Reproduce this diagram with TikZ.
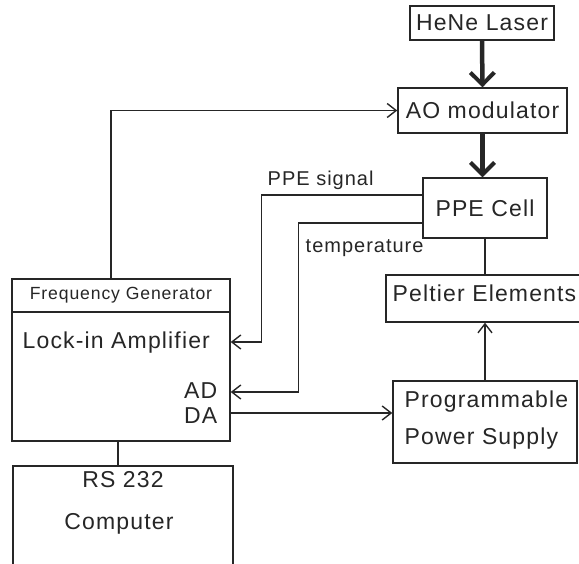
\documentclass[tikz,border=0pt]{standalone}
\usepackage{fontspec}
\setmainfont{Liberation Sans}[LetterSpace=5]
\usetikzlibrary{arrows.meta}

\begin{document}
\begin{tikzpicture}[x=1pt,y=-1pt,line width=1.4pt,draw=black!85,text=black!85,
  box/.style={draw,inner sep=0pt,font=\fontsize{23}{27}\selectfont},
  lbl/.style={inner sep=0pt,font=\fontsize{23}{27}\selectfont},
  small/.style={inner sep=0pt,font=\fontsize{20}{24}\selectfont},
  sig/.style={-{Straight Barb[length=9pt,width=14pt]}},
  beam/.style={line width=4.5pt,-{Straight Barb[length=12pt,width=24pt,line width=4pt]}}]
\useasboundingbox (0,0) rectangle (579,563);
\clip (0,0) rectangle (579,563);

\node[box,minimum width=144,minimum height=34] (laser) at (482,23) {HeNe Laser};
\node[box,minimum width=169,minimum height=45] (ao) at (482.5,110.5) {AO modulator};
\node[box,minimum width=124,minimum height=60] (ppe) at (485,208) {PPE Cell};
\node[box,minimum width=240,minimum height=47] (peltier) at (506,298.5) {};
\node[box,minimum width=184,minimum height=82] (power) at (485,422) {};
\node[box,minimum width=218,minimum height=33,font=\fontsize{17.6}{21}\selectfont] (freqgen) at (121,295.5) {Frequency Generator};
\node[box,minimum width=218,minimum height=129] (lockin) at (121,376.5) {};
\node[box,minimum width=220,minimum height=134] (computer) at (123,533) {};

\node[lbl,anchor=base west] (peltxt) at (392,301) {Peltier Elements};
\node[lbl,anchor=base west] (prog) at (404,407) {Programmable};
\node[lbl,anchor=base west] (supply) at (404,444) {Power Supply};
\node[lbl,anchor=base west] (amp) at (22,348) {Lock-in Amplifier};
\node[lbl,anchor=base east] (ad) at (218,398) {AD};
\node[lbl,anchor=base east] (da) at (218,423) {DA};
\node[lbl,anchor=base] (rs) at (123,487) {RS 232};
\node[lbl,anchor=base] (comp) at (119,529) {Computer};
\node[small,anchor=base west] (sigtxt) at (267,185) {PPE signal};
\node[small,anchor=base west] (temptxt) at (305,252) {temperature};

\draw[beam] (laser.south) -- (ao.north);
\draw[beam] (ao.south) -- (ao.south |- ppe.north);
\draw[sig] ([xshift=-10pt]freqgen.north) |- (ao.west);
\draw[sig] ([yshift=13pt]ppe.west) -- ++(-161,0) |- ([yshift=34.5pt]lockin.east);
\draw[sig] ([yshift=-15pt]ppe.west) -- ++(-124,0) |- ([yshift=-15.5pt]lockin.east);
\draw[sig] ([yshift=-36.5pt]lockin.east) -- ([yshift=-36.5pt]lockin.east -| power.west);
\draw (ppe.south) -- (ppe.south |- peltier.north);
\draw[sig] (power.north) -- (power.north |- peltier.south);
\draw ([xshift=-3pt]lockin.south) -- ([xshift=-3pt]lockin.south |- computer.north);
\end{tikzpicture}
\end{document}
